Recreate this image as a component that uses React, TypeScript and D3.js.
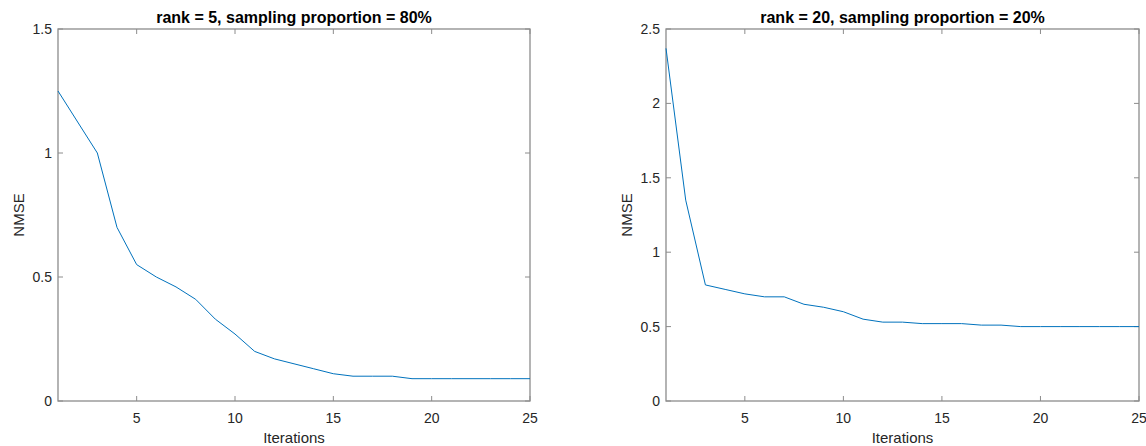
import { useEffect, useRef } from 'react'
import * as d3 from 'd3'

// iterations 1..25
const iterations = d3.range(1, 26)

// rank = 5, sampling proportion = 80%
const nmseLeft = [
  1.25, 1.125, 1.0, 0.7, 0.55, 0.5, 0.46, 0.41, 0.33, 0.27, 0.2, 0.17, 0.15,
  0.13, 0.11, 0.1, 0.1, 0.1, 0.09, 0.09, 0.09, 0.09, 0.09, 0.09, 0.09,
]

// rank = 20, sampling proportion = 20%
const nmseRight = [
  2.37, 1.35, 0.78, 0.75, 0.72, 0.7, 0.7, 0.65, 0.63, 0.6, 0.55, 0.53, 0.53,
  0.52, 0.52, 0.52, 0.51, 0.51, 0.5, 0.5, 0.5, 0.5, 0.5, 0.5, 0.5,
]

const xTicks = [5, 10, 15, 20, 25]
const yTicksLeft = [0, 0.5, 1, 1.5]
const yTicksRight = [0, 0.5, 1, 1.5, 2, 2.5]

const panels = [
  { title: 'rank = 5, sampling proportion = 80%', values: nmseLeft, yMax: 1.5, yTicks: yTicksLeft, left: 58, right: 530 },
  { title: 'rank = 20, sampling proportion = 20%', values: nmseRight, yMax: 2.5, yTicks: yTicksRight, left: 666, right: 1139 },
]

export default function App() {
  const svgRef = useRef<SVGSVGElement | null>(null)

  useEffect(() => {
    if (!svgRef.current) return
    const width = 1146
    const height = 446
    const top = 29
    const bottom = 401
    const font = 'Liberation Sans, Arial, Helvetica, sans-serif'
    const axisColor = '#8c8c8c'
    const textColor = '#262626'

    const svg = d3.select(svgRef.current)
    svg.selectAll('*').remove()
    svg.attr('width', width).attr('height', height)

    panels.forEach(p => {
      const x = d3.scaleLinear().domain([1, 25]).range([p.left, p.right])
      const y = d3.scaleLinear().domain([0, p.yMax]).range([bottom, top])
      const g = svg.append('g')

      // box
      g.append('rect')
        .attr('x', p.left)
        .attr('y', top)
        .attr('width', p.right - p.left)
        .attr('height', bottom - top)
        .attr('fill', 'white')
        .attr('stroke', axisColor)
        .attr('stroke-width', 1.3)

      // x ticks (inward, top and bottom)
      xTicks.forEach(t => {
        const px = x(t)
        g.append('line').attr('x1', px).attr('x2', px).attr('y1', bottom).attr('y2', bottom - 5)
          .attr('stroke', axisColor)
        g.append('line').attr('x1', px).attr('x2', px).attr('y1', top).attr('y2', top + 5)
          .attr('stroke', axisColor)
        g.append('text')
          .attr('x', px)
          .attr('y', bottom + 22)
          .attr('text-anchor', 'middle')
          .style('font-family', font)
          .style('font-size', '14px')
          .style('fill', textColor)
          .text(t)
      })

      // y ticks
      p.yTicks.forEach(t => {
        const py = y(t)
        g.append('line').attr('x1', p.left).attr('x2', p.left + 5).attr('y1', py).attr('y2', py)
          .attr('stroke', axisColor)
        g.append('line').attr('x1', p.right).attr('x2', p.right - 5).attr('y1', py).attr('y2', py)
          .attr('stroke', axisColor)
        g.append('text')
          .attr('x', p.left - 6)
          .attr('y', py)
          .attr('dy', '0.36em')
          .attr('text-anchor', 'end')
          .style('font-family', font)
          .style('font-size', '14px')
          .style('fill', textColor)
          .text(t)
      })

      // series
      const line = d3.line<number>()
        .x((d, i) => x(iterations[i]))
        .y(d => y(d))
      g.append('path')
        .datum(p.values)
        .attr('d', line)
        .attr('fill', 'none')
        .attr('stroke', '#0072BD')
        .attr('stroke-width', 1)

      // title
      g.append('text')
        .attr('x', (p.left + p.right) / 2)
        .attr('y', 23)
        .attr('text-anchor', 'middle')
        .style('font-family', font)
        .style('font-size', '16px')
        .style('font-weight', 'bold')
        .style('fill', 'black')
        .text(p.title)

      // axis labels
      g.append('text')
        .attr('x', (p.left + p.right) / 2)
        .attr('y', 443)
        .attr('text-anchor', 'middle')
        .style('font-family', font)
        .style('font-size', '15px')
        .style('fill', textColor)
        .text('Iterations')

      g.append('text')
        .attr('transform', `translate(${p.left - 34}, ${(top + bottom) / 2}) rotate(-90)`)
        .attr('text-anchor', 'middle')
        .style('font-family', font)
        .style('font-size', '15px')
        .style('fill', textColor)
        .text('NMSE')
    })
  }, [])

  return (
    <div style={{ position: 'absolute', left: 0, top: 0 }}>
      <svg ref={svgRef} style={{ display: 'block', background: 'white' }}></svg>
    </div>
  )
}
